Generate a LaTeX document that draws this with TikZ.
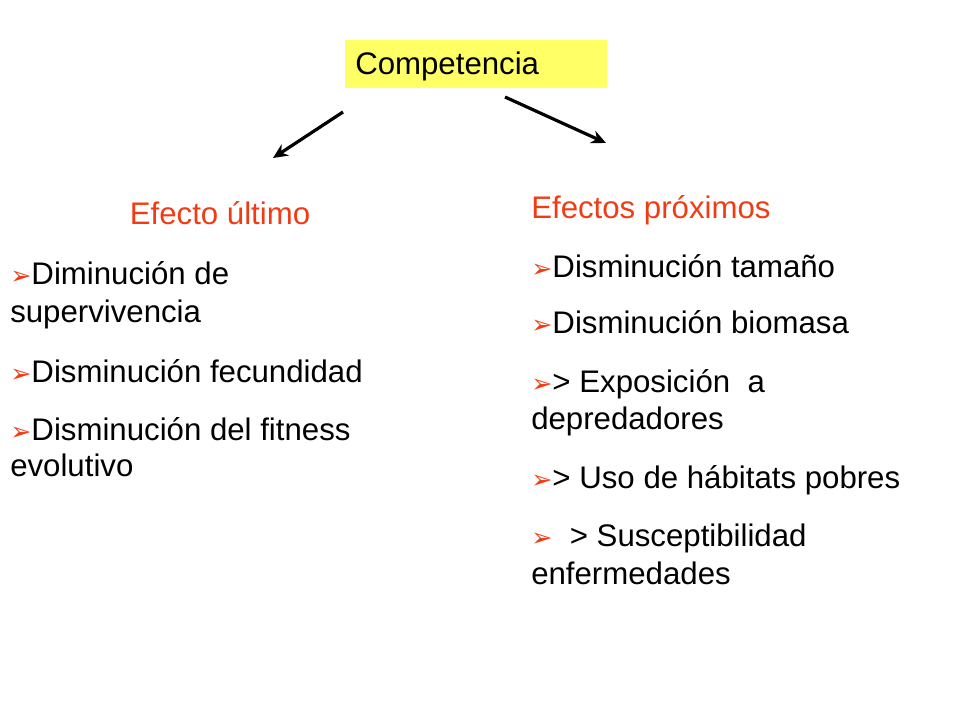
\documentclass[tikz,border=0pt]{standalone}
\usepackage{fontspec}
\setmainfont{Liberation Sans}
\newfontfamily\dejavu{DejaVu Sans}
\usetikzlibrary{arrows.meta}
\definecolor{ored}{RGB}{240,60,20}
\definecolor{yel}{RGB}{255,255,102}
\newcommand{\bul}{{\dejavu\color{ored}\fontsize{19}{22}\selectfont ➢}}
\begin{document}
\begin{tikzpicture}[x=0.75pt,y=-0.75pt,
  t/.style={anchor=base west,inner sep=0pt,font=\fontsize{23.4}{28}\selectfont},
  hd/.style={t,text=ored},
  arr/.style={line width=2.4pt,-{Stealth[length=11pt,width=10pt]}}]
\useasboundingbox (0,0) rectangle (960,720);
\fill[yel] (345,40) rectangle (607,88);
\node[t] (comp) at (355,75) {Competencia};
\coordinate (a1) at (343,112); \coordinate (a2) at (273,158);
\coordinate (b1) at (505,97); \coordinate (b2) at (606,143);
\draw[arr] (a1) -- (a2);
\draw[arr] (b1) -- (b2);
\node[hd,anchor=base] (eu) at (220,225) {Efecto último};
\node[t] (l1) at (10,285) {\bul Diminución de};
\node[t] (l1b) at (10,322) {supervivencia};
\node[t] (l2) at (10,382) {\bul Disminución fecundidad};
\node[t] (l3) at (10,440) {\bul Disminución del fitness};
\node[t] (l3b) at (10,476) {evolutivo};
\node[hd] (ep) at (531,219) {Efectos próximos};
\node[t] (r1) at (531,277) {\bul Disminución tamaño};
\node[t] (r2) at (531,334) {\bul Disminución biomasa};
\node[t] (r3) at (531,392) {\bul > Exposición\ \ a};
\node[t] (r3b) at (531,429) {depredadores};
\node[t] (r4) at (531,488) {\bul > Uso de hábitats pobres};
\node[t] (r5) at (531,546) {\bul\ \ > Susceptibilidad};
\node[t] (r5b) at (531,584) {enfermedades};
\end{tikzpicture}
\end{document}
